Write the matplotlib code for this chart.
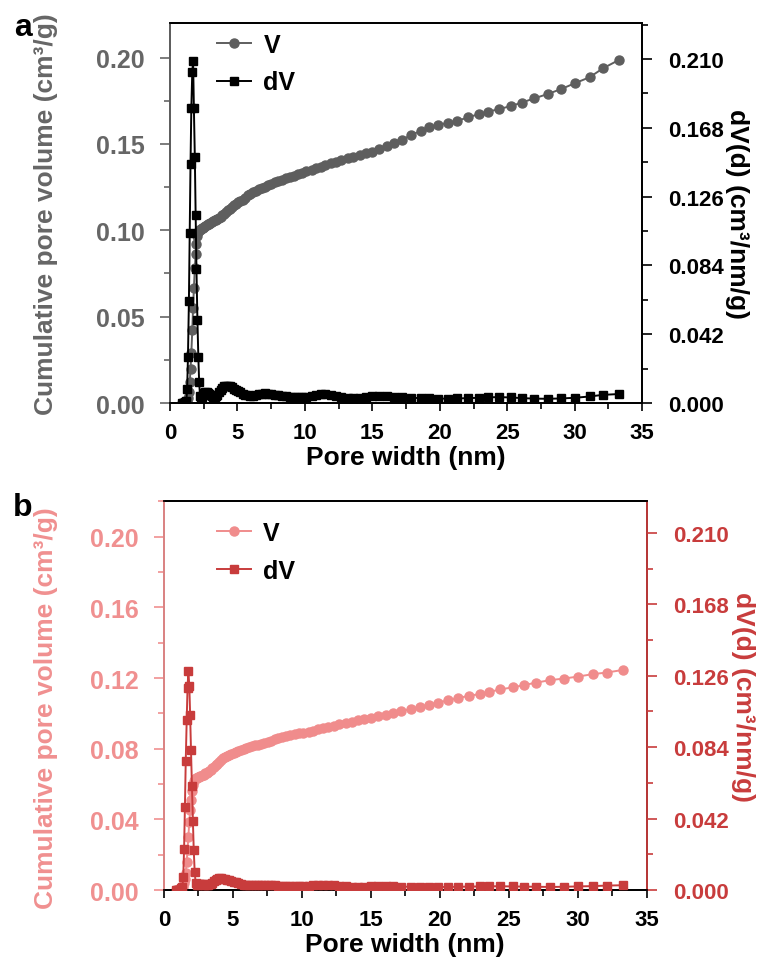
import matplotlib
matplotlib.use("Agg")
import matplotlib.pyplot as plt
from matplotlib.ticker import MultipleLocator, FormatStrFormatter
from matplotlib.lines import Line2D

plt.rcParams['font.family'] = ['Liberation Sans', 'DejaVu Sans']
plt.rcParams['font.weight'] = 'bold'

# pore width grid (nm), shared by both samples
width = [0.90, 0.97, 1.03, 1.09, 1.15, 1.21, 1.27, 1.33, 1.40, 1.46,
         1.52, 1.58, 1.65, 1.71, 1.77, 1.84, 1.90, 1.96, 2.03, 2.10,
         2.16, 2.23, 2.30, 2.38, 2.46, 2.54, 2.62, 2.71, 2.80, 2.89,
         2.99, 3.09, 3.19, 3.30, 3.41, 3.52, 3.64, 3.76, 3.88, 4.01,
         4.15, 4.29, 4.43, 4.58, 4.73, 4.89, 5.05, 5.22, 5.40, 5.58,
         5.77, 5.96, 6.16, 6.37, 6.58, 6.80, 7.03, 7.27, 7.51, 7.76,
         8.02, 8.29, 8.57, 8.86, 9.16, 9.47, 9.79, 10.1, 10.5, 10.8,
         11.2, 11.5, 11.9, 12.3, 12.7, 13.2, 13.6, 14.1, 14.5, 15.0,
         15.5, 16.1, 16.6, 17.2, 17.9, 18.6, 19.2, 19.9, 20.6, 21.3,
         22.1, 22.9, 23.6, 24.4, 25.3, 26.1, 27.0, 28.0, 29.0, 30.0,
         31.1, 32.1, 33.3]

# sample a
V_a = [0.0000, 0.0001, 0.0002, 0.0003, 0.0005, 0.0008, 0.0012, 0.0030, 0.0065, 0.0120,
       0.0195, 0.0290, 0.0420, 0.0550, 0.0665, 0.0780, 0.0860, 0.0920, 0.0965, 0.0990,
       0.1000, 0.1004, 0.1008, 0.1012, 0.1016, 0.1020, 0.1024, 0.1029, 0.1034, 0.1039,
       0.1044, 0.1049, 0.1053, 0.1057, 0.1061, 0.1066, 0.1072, 0.1079, 0.1087, 0.1096,
       0.1106, 0.1116, 0.1126, 0.1136, 0.1145, 0.1154, 0.1162, 0.1170, 0.1178, 0.1186,
       0.1205, 0.1213, 0.1221, 0.1229, 0.1237, 0.1245, 0.1253, 0.1261, 0.1269, 0.1277,
       0.1285, 0.1293, 0.1301, 0.1309, 0.1317, 0.1325, 0.1333, 0.1341, 0.1351, 0.1359,
       0.1369, 0.1377, 0.1387, 0.1397, 0.1407, 0.1418, 0.1427, 0.1437, 0.1445, 0.1455,
       0.1468, 0.1487, 0.1503, 0.1525, 0.1552, 0.1577, 0.1596, 0.1610, 0.1622, 0.1634,
       0.1654, 0.1673, 0.1687, 0.1702, 0.1720, 0.1740, 0.1764, 0.1789, 0.1818, 0.1851,
       0.1886, 0.1938, 0.1987]
dV_a = [0.0000, 0.0000, 0.0002, 0.0004, 0.0008, 0.0013, 0.0085, 0.028, 0.062, 0.104,
        0.146, 0.180, 0.202, 0.209, 0.180, 0.150, 0.115, 0.082, 0.051, 0.028,
        0.0127, 0.0040, 0.0025, 0.0035, 0.0050, 0.0060, 0.0066, 0.0066, 0.0062, 0.0055,
        0.0048, 0.0042, 0.0038, 0.0037, 0.0042, 0.0052, 0.0065, 0.0080, 0.0092, 0.0101,
        0.0106, 0.0106, 0.0102, 0.0096, 0.0088, 0.0080, 0.0073, 0.0066, 0.0058, 0.0052,
        0.0047, 0.0045, 0.0046, 0.0050, 0.0055, 0.0058, 0.0059, 0.0058, 0.0055, 0.0052,
        0.0049, 0.0045, 0.0042, 0.0039, 0.0037, 0.0036, 0.0036, 0.0038, 0.0043, 0.0050,
        0.0055, 0.0056, 0.0052, 0.0045, 0.0038, 0.0032, 0.0030, 0.0032, 0.0038, 0.0044,
        0.0045, 0.0042, 0.0038, 0.0035, 0.0032, 0.0030, 0.0028, 0.0027, 0.0027, 0.0028,
        0.0030, 0.0032, 0.0035, 0.0036, 0.0034, 0.0030, 0.0027, 0.0026, 0.0028, 0.0032,
        0.0040, 0.0050, 0.0055]

# sample b
V_b = [0.0000, 0.0000, 0.0001, 0.0001, 0.0002, 0.0003, 0.0005, 0.0007, 0.0015, 0.0040,
       0.0062, 0.0099, 0.0160, 0.0226, 0.0300, 0.0387, 0.0454, 0.0510, 0.0560, 0.0596,
       0.0615, 0.0627, 0.0632, 0.0635, 0.0638, 0.0641, 0.0644, 0.0647, 0.0650, 0.0653,
       0.0660, 0.0665, 0.0670, 0.0676, 0.0682, 0.0689, 0.0697, 0.0706, 0.0716, 0.0726,
       0.0736, 0.0745, 0.0753, 0.0760, 0.0766, 0.0772, 0.0777, 0.0782, 0.0787, 0.0792,
       0.0798, 0.0803, 0.0808, 0.0813, 0.0818, 0.0823, 0.0828, 0.0834, 0.0840, 0.0846,
       0.0852, 0.0858, 0.0864, 0.0870, 0.0876, 0.0881, 0.0886, 0.0891, 0.0897, 0.0902,
       0.0910, 0.0916, 0.0923, 0.0930, 0.0937, 0.0945, 0.0952, 0.0960, 0.0967, 0.0975,
       0.0983, 0.0993, 0.1001, 0.1012, 0.1025, 0.1037, 0.1048, 0.1061, 0.1074, 0.1086,
       0.1099, 0.1109, 0.1121, 0.1136, 0.1147, 0.1160, 0.1174, 0.1188, 0.1197, 0.1208,
       0.1222, 0.1231, 0.1246]
dV_b = [0.0000, 0.0000, 0.0000, 0.0001, 0.0002, 0.0005, 0.0010, 0.0016, 0.0076, 0.0240,
        0.0486, 0.0756, 0.100, 0.119, 0.1285, 0.120, 0.1027, 0.0826, 0.061, 0.0406,
        0.0236, 0.0105, 0.0040, 0.0030, 0.0032, 0.0035, 0.0036, 0.0035, 0.0033, 0.0032,
        0.0031, 0.0031, 0.0032, 0.0034, 0.0038, 0.0044, 0.0052, 0.0060, 0.0065, 0.0068,
        0.0068, 0.0066, 0.0063, 0.0060, 0.0057, 0.0054, 0.0050, 0.0045, 0.0040, 0.0035,
        0.0031, 0.0028, 0.0027, 0.0027, 0.0028, 0.0029, 0.0030, 0.0030, 0.0029, 0.0028,
        0.0027, 0.0026, 0.0025, 0.0024, 0.0023, 0.0023, 0.0023, 0.0024, 0.0026, 0.0028,
        0.0030, 0.0031, 0.0030, 0.0027, 0.0024, 0.0021, 0.0019, 0.0019, 0.0020, 0.0021,
        0.0022, 0.0022, 0.0021, 0.0020, 0.0019, 0.0019, 0.0018, 0.0018, 0.0018, 0.0019,
        0.0020, 0.0021, 0.0022, 0.0022, 0.0021, 0.0020, 0.0019, 0.0018, 0.0019, 0.0021,
        0.0023, 0.0026, 0.0028]

right_ticks = [0.000, 0.042, 0.084, 0.126, 0.168, 0.210]


def draw_panel(ax, V, dV, c_v, c_dv, c_left, c_right, left_step, right_top,
               xlab_y, ylab_x, ylab_y, leg_xy):
    ax.plot(width, V, '-o', color=c_v, ms=6.5, lw=1.4, zorder=3)
    ax2 = ax.twinx()
    ax2.plot(width, dV, '-s', color=c_dv, ms=6, lw=1.4, zorder=3)

    ax.set_xlim(0, 35)
    ax.set_ylim(0, 0.22)
    ax2.set_ylim(0, right_top)

    ax.xaxis.set_major_locator(MultipleLocator(5))
    ax.xaxis.set_minor_locator(MultipleLocator(2.5))
    ax.yaxis.set_major_locator(MultipleLocator(left_step))
    ax.yaxis.set_minor_locator(MultipleLocator(left_step / 2))
    ax.yaxis.set_major_formatter(FormatStrFormatter('%.2f'))
    ax2.set_yticks(right_ticks)
    ax2.yaxis.set_minor_locator(MultipleLocator(0.021))
    ax2.yaxis.set_major_formatter(FormatStrFormatter('%.3f'))

    ax.tick_params(axis='x', which='major', direction='out', length=6,
                   width=1.2, labelsize=16, pad=8, colors='black')
    ax.tick_params(axis='x', which='minor', direction='out', length=4,
                   width=1.2, colors='black')
    ax.tick_params(axis='y', which='major', direction='out', length=7,
                   width=1.2, labelsize=18, pad=11, colors=c_left)
    ax.tick_params(axis='y', which='minor', direction='out', length=4,
                   width=1.2, colors=c_left)
    ax2.tick_params(axis='y', which='major', direction='out', length=7,
                    width=1.2, labelsize=16, pad=12, colors=c_right)
    ax2.tick_params(axis='y', which='minor', direction='out', length=4,
                    width=1.2, colors=c_right)
    for lab in ax.get_xticklabels() + ax.get_yticklabels() + ax2.get_yticklabels():
        lab.set_fontweight('bold')

    for a in (ax, ax2):
        for s in a.spines.values():
            s.set_linewidth(1.3)
    ax2.spines['left'].set_color(c_left)
    ax2.spines['right'].set_color(c_right)
    ax2.spines['top'].set_color('black')
    ax2.spines['bottom'].set_color('black')

    ax.set_xlabel('Pore width (nm)', fontsize=19, fontweight='bold')
    ax.xaxis.set_label_coords(0.5, xlab_y)
    ax.set_ylabel('Cumulative pore volume (cm³/g)', fontsize=19,
                  fontweight='bold', color=c_left)
    ax.yaxis.set_label_coords(ylab_x, ylab_y)
    ax2.set_ylabel('dV(d) (cm³/nm/g)', fontsize=19, fontweight='bold',
                   color=c_right, rotation=270, va='center')
    ax2.yaxis.set_label_coords(1.2, 0.5)

    handles = [Line2D([], [], color=c_v, marker='o', ms=6.5, lw=1.4),
               Line2D([], [], color=c_dv, marker='s', ms=6, lw=1.4)]
    ax2.legend(handles, ['V', 'dV'], loc='upper left', frameon=False,
               bbox_to_anchor=leg_xy, borderpad=0, borderaxespad=0,
               handlelength=1.35, handletextpad=0.5, labelspacing=0.55,
               prop={'weight': 'bold', 'size': 18})
    return ax2


fig = plt.figure(figsize=(7.59, 9.62), dpi=100)
ax_a = fig.add_axes([0.224, 0.580, 0.622, 0.395])
ax_b = fig.add_axes([0.216, 0.0738, 0.636, 0.404])

draw_panel(ax_a, V_a, dV_a, '#5e5e5e', 'black', '#666666', 'black', 0.05, 0.232,
           -0.11, -0.238, 0.5, (0.1, 0.975))
draw_panel(ax_b, V_b, dV_b, '#f08c8c', '#c83c3c', '#f09090', '#c83c3c', 0.04, 0.2285,
           -0.107, -0.22, 0.47, (0.11, 0.95))

fig.text(23 / 759, 1 - 28 / 962, 'a', fontsize=23, fontweight='bold', ha='center', va='center')
fig.text(23 / 759, 1 - 508 / 962, 'b', fontsize=23, fontweight='bold', ha='center', va='center')

fig.savefig('out.png', dpi=100)
